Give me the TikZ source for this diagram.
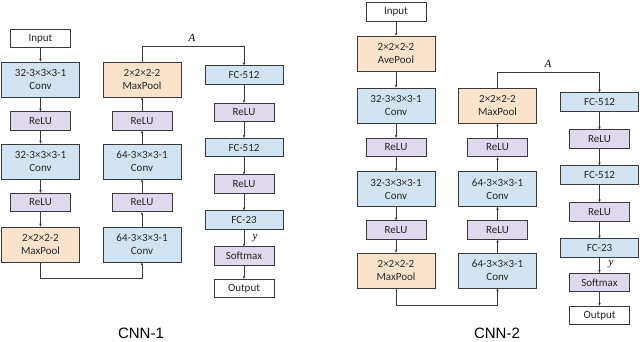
\documentclass[tikz,border=0pt]{standalone}
\usepackage{fontspec}
\setmainfont{Carlito}
\newfontfamily\labfont{Liberation Sans}
\newfontfamily\serfont{Liberation Serif}
\usetikzlibrary{arrows.meta}
\definecolor{bluebox}{HTML}{D2E4F4}
\definecolor{orangebox}{HTML}{FCE4CC}
\definecolor{purplebox}{HTML}{E0D8EC}
\definecolor{edgegray}{HTML}{3A3A3A}
\tikzset{
  box/.style={draw=edgegray, line width=0.8pt, inner sep=0pt, align=center, font=\fontsize{11}{13}\selectfont, text=black!85},
  tallbox/.style={box, minimum width=78pt, minimum height=35pt},
  shortbox/.style={box, minimum width=60pt, minimum height=18.5pt},
  widebox/.style={box, minimum width=78pt, minimum height=18.5pt},
  conv/.style={tallbox, fill=bluebox},
  pool/.style={tallbox, fill=orangebox},
  relu/.style={shortbox, fill=purplebox},
  fc/.style={widebox, fill=bluebox},
  plain/.style={shortbox, fill=white},
  conn/.style={draw=edgegray, line width=0.8pt, -{Stealth[length=3pt,width=2.5pt]}},
  mathlab/.style={font=\serfont\itshape\fontsize{11}{13}\selectfont},
  title/.style={font=\labfont\fontsize{15}{18}\selectfont}
}
\begin{document}
\begin{tikzpicture}[x=1pt,y=-1pt]
\useasboundingbox (0,0) rectangle (640,342);
% ---------------- CNN-1 ----------------
\node[plain] (a_in) at (40.5,38.5) {Input};
\node[conv]  (a_c1) at (40.5,79.5) {32-3×3×3-1\\Conv};
\node[relu]  (a_r1) at (40.5,121) {ReLU};
\node[conv]  (a_c2) at (40.5,161.5) {32-3×3×3-1\\Conv};
\node[relu]  (a_r2) at (40.5,202.5) {ReLU};
\node[pool]  (a_p1) at (40.5,244.5) {2×2×2-2\\MaxPool};

\node[conv]  (a_c3) at (142,244.5) {64-3×3×3-1\\Conv};
\node[relu]  (a_r3) at (142,202.5) {ReLU};
\node[conv]  (a_c4) at (142,161.5) {64-3×3×3-1\\Conv};
\node[relu]  (a_r4) at (142,121) {ReLU};
\node[pool]  (a_p2) at (142,79.5) {2×2×2-2\\MaxPool};

\node[fc]    (a_f1) at (244,75) {FC-512};
\node[relu]  (a_r5) at (244,112.5) {ReLU};
\node[fc]    (a_f2) at (244,147.5) {FC-512};
\node[relu]  (a_r6) at (244,184) {ReLU};
\node[fc]    (a_f3) at (244,220) {FC-23};
\node[relu]  (a_sm) at (244,256) {Softmax};
\node[plain] (a_out) at (244,288.5) {Output};

\draw[conn] (a_in) -- (a_c1);
\draw[conn] (a_c1) -- (a_r1);
\draw[conn] (a_r1) -- (a_c2);
\draw[conn] (a_c2) -- (a_r2);
\draw[conn] (a_r2) -- (a_p1);
\draw[conn] (a_p1.south) -- (40.5,278) -| (a_c3.south);
\draw[conn] (a_c3) -- (a_r3);
\draw[conn] (a_r3) -- (a_c4);
\draw[conn] (a_c4) -- (a_r4);
\draw[conn] (a_r4) -- (a_p2);
\draw[conn] (a_p2.north) -- (142,46) -| (a_f1.north);
\node[mathlab] (a_A) at (192,38) {A};
\draw[conn] (a_f1) -- (a_r5);
\draw[conn] (a_r5) -- (a_f2);
\draw[conn] (a_f2) -- (a_r6);
\draw[conn] (a_r6) -- (a_f3);
\draw[conn] (a_f3) -- (a_sm);
\node[mathlab] (a_y) at (255,238) {y};
\draw[conn] (a_sm) -- (a_out);
\node[title] (t1) at (141,333) {CNN-1};

% ---------------- CNN-2 ----------------
\node[plain] (b_in) at (396,12) {Input};
\node[pool]  (b_ap) at (396,53.5) {2×2×2-2\\AvePool};
\node[conv]  (b_c1) at (396,105.5) {32-3×3×3-1\\Conv};
\node[relu]  (b_r1) at (396,147.5) {ReLU};
\node[conv]  (b_c2) at (396,189) {32-3×3×3-1\\Conv};
\node[relu]  (b_r2) at (396,230) {ReLU};
\node[pool]  (b_p1) at (396,270.5) {2×2×2-2\\MaxPool};

\node[conv]  (b_c3) at (497.5,270.5) {64-3×3×3-1\\Conv};
\node[relu]  (b_r3) at (497.5,230) {ReLU};
\node[conv]  (b_c4) at (497.5,189) {64-3×3×3-1\\Conv};
\node[relu]  (b_r4) at (497.5,147.5) {ReLU};
\node[pool]  (b_p2) at (497.5,105.5) {2×2×2-2\\MaxPool};

\node[fc]    (b_f1) at (599.5,102) {FC-512};
\node[relu]  (b_r5) at (599.5,139) {ReLU};
\node[fc]    (b_f2) at (599.5,175) {FC-512};
\node[relu]  (b_r6) at (599.5,212) {ReLU};
\node[fc]    (b_f3) at (599.5,248) {FC-23};
\node[relu]  (b_sm) at (599.5,282.5) {Softmax};
\node[plain] (b_out) at (599.5,315.5) {Output};

\draw[conn] (b_in) -- (b_ap);
\draw[conn] (b_ap) -- (b_c1);
\draw[conn] (b_c1) -- (b_r1);
\draw[conn] (b_r1) -- (b_c2);
\draw[conn] (b_c2) -- (b_r2);
\draw[conn] (b_r2) -- (b_p1);
\draw[conn] (b_p1.south) -- (396,305) -| (b_c3.south);
\draw[conn] (b_c3) -- (b_r3);
\draw[conn] (b_r3) -- (b_c4);
\draw[conn] (b_c4) -- (b_r4);
\draw[conn] (b_r4) -- (b_p2);
\draw[conn] (b_p2.north) -- (497.5,72) -| (b_f1.north);
\node[mathlab] (b_A) at (548,64) {A};
\draw[conn] (b_f1) -- (b_r5);
\draw[conn] (b_r5) -- (b_f2);
\draw[conn] (b_f2) -- (b_r6);
\draw[conn] (b_r6) -- (b_f3);
\draw[conn] (b_f3) -- (b_sm);
\node[mathlab] (b_y) at (611,264) {y};
\draw[conn] (b_sm) -- (b_out);
\node[title] (t2) at (497,333) {CNN-2};
\end{tikzpicture}
\end{document}
